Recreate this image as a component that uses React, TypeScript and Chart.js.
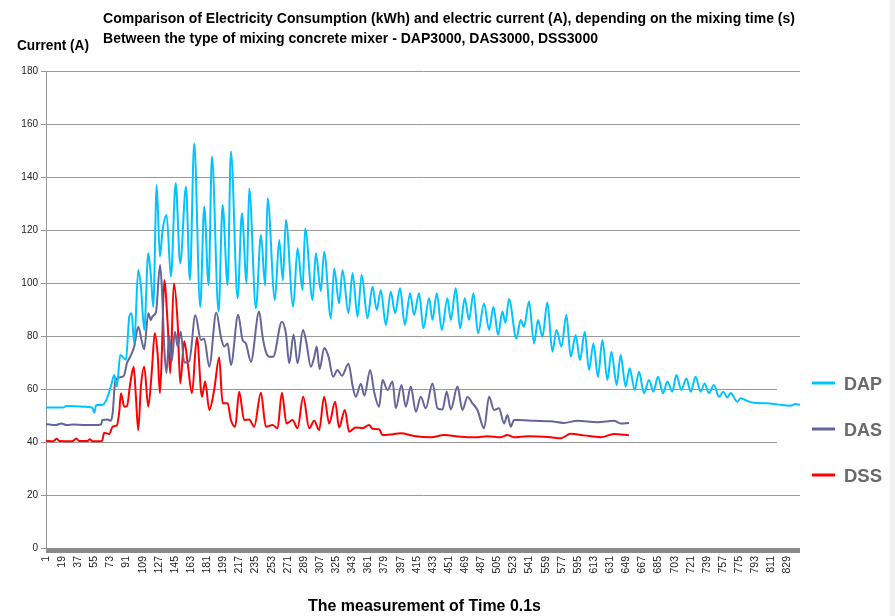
import { useEffect, useRef } from "react";
import { Chart, registerables } from "chart.js";

Chart.register(...registerables);

const TITLE_LINE_1 =
  "Comparison of Electricity Consumption (kWh) and electric current (A), depending on the mixing time (s)";
const TITLE_LINE_2 = "Between the type of mixing concrete mixer - DAP3000, DAS3000, DSS3000";
const Y_TITLE = "Current (A)";
const X_TITLE = "The measurement of Time 0.1s";
const SERIES_NAMES = ["DAP", "DAS", "DSS"];
const SERIES_COLORS = ["#00C4FF", "#65659A", "#FF0000"];

const TIME_TICKS = [
  1, 19, 37, 55, 73, 91, 109, 127, 145, 163, 181, 199, 217, 235, 253, 271, 289, 307, 325, 343,
  361, 379, 397, 415, 433, 451, 469, 487, 505, 523, 541, 559, 577, 595, 613, 631, 649, 667, 685,
  703, 721, 739, 757, 775, 793, 811, 829,
];
const TIME_MIN = 1;
const TIME_MAX = 843;
const CURRENT_MIN = 0;
const CURRENT_MAX = 180;
const CURRENT_STEP = 20;

// [time, current]
const DAP: [number, number][] = [
  [1, 53], [20, 53], [24, 53.6], [48, 53.2], [53, 52.8], [55, 51], [57, 54], [64.3, 54],
  [69.9, 57.1], [74.3, 62.1], [77.2, 65.3], [80.2, 61], [83.9, 72.8], [90.3, 71], [94, 87.3],
  [96.6, 88.6], [99.5, 77.2], [104, 104.9], [107, 98.6], [110.7, 82.3], [115.2, 111.2],
  [118.2, 102.4], [120.8, 91], [124.6, 137], [128.2, 110], [131.2, 120], [135.7, 125.7],
  [140.5, 102.4], [145.8, 137.6], [150.9, 107.4], [157.3, 136.3], [161.7, 101.1], [166.5, 152.7],
  [173.2, 91], [177.7, 128.8], [182.6, 99.2], [186.3, 147.7], [193.7, 89.2], [198.2, 129.4],
  [203.8, 99.2], [207.5, 149.6], [215, 94.2], [219.8, 126.3], [225, 99.9], [227.9, 135.7],
  [235.4, 90.5], [241, 118.1], [245.8, 99], [248.4, 132], [256.6, 93.6], [261.4, 116.2],
  [265.5, 101], [268.9, 123.8], [277, 91], [281.9, 113.1], [287.5, 97.4], [290.4, 120.6],
  [298.7, 93.6], [302.3, 111.2], [307.9, 97], [311.6, 111.8], [319.1, 86.7], [322.8, 105.5],
  [328.3, 92.3], [332.1, 104.9], [338.8, 88.6], [343.3, 103.7], [348.9, 87.3], [353.5, 103],
  [360, 86.7], [365.6, 98.6], [370.4, 89.8], [374.9, 97.4], [380.5, 84.2], [386, 96.7],
  [390.8, 88.6], [396.4, 98], [401.7, 84.2], [407.6, 96.1], [412, 87.9], [417.6, 96.1],
  [422.5, 82.9], [428.8, 94.2], [432.6, 86], [437.4, 96.1], [443, 82.3], [449.3, 94.2],
  [453, 86], [458.6, 98], [463.4, 82.9], [468.6, 94.2], [473.4, 86], [478.3, 96.1], [483.5, 81],
  [490.2, 92.3], [495.8, 82.3], [500.7, 91], [505.8, 80.4], [510.7, 89.2], [514, 85], [518, 94],
  [526.3, 79.1], [531.1, 86], [534.8, 83.5], [540.4, 93], [546, 77.2], [550.4, 86],
  [555.4, 79.7], [560.9, 92.6], [566.5, 74.1], [571, 82.3], [576.6, 76], [582.1, 87.9],
  [587, 72.2], [592.5, 80.4], [597.3, 70.9], [602.6, 81.6], [607.4, 67.2], [612.3, 77.2],
  [617.4, 64.6], [622.3, 78.5], [627.9, 63.4], [632.4, 74.1], [638.3, 61.5], [642.7, 72.8],
  [648.3, 60.9], [652.8, 67.8], [658.4, 59.6], [663.2, 66.5], [668.8, 58.4], [674.4, 63.4],
  [679.2, 59], [684.4, 64.6], [690, 58.4], [694.9, 62.8], [700.4, 59], [704.9, 65.3],
  [710.5, 59.6], [716.1, 64], [721, 59], [726.4, 64.6], [732, 59], [736.5, 62.1], [741.3, 58.4],
  [746.9, 61.5], [752.5, 57.1], [757.4, 59], [761.8, 56.8], [765.5, 58.5], [773, 55.2],
  [776.7, 56.5], [784.2, 55.5], [791.5, 54.8], [806.5, 54.6], [817.6, 54.2], [832.5, 53.7],
  [838, 54.3], [843, 54],
];

const DAS: [number, number][] = [
  [1, 46.8], [12, 46.4], [18, 47], [24, 46.4], [32, 46.6], [44, 46.4], [55, 46.4], [62.4, 46.6],
  [64, 48.3], [70, 48.5], [73, 48], [75.4, 50.8], [78, 62.1], [80.2, 64], [84.7, 64.5], [88, 65],
  [91.4, 69.7], [95.1, 72.2], [99.5, 76], [104, 83.5], [108, 78], [110.7, 75], [115.2, 88.6],
  [118.2, 86], [120.1, 87.5], [123.8, 89], [128.4, 106.8], [130.5, 97.4], [133, 76], [135.5, 66],
  [138.6, 80], [141.3, 70.3], [145, 81.6], [148, 76], [151.5, 81.6], [155.4, 70], [161, 70.5],
  [167.8, 87.8], [174, 78.5], [177.7, 79], [183.3, 68.4], [191.2, 88.9], [196.3, 79.7],
  [200, 76], [203.8, 77.2], [207.5, 69.1], [215.6, 88], [220.5, 78.5], [224.2, 77.2],
  [229.8, 70.3], [239, 89.2], [242.9, 79.7], [246.5, 74.1], [250.2, 72.2], [254.7, 72.2],
  [264.4, 85.4], [268.9, 81], [272.6, 69.7], [277.5, 80.6], [281.9, 69.7], [288, 82.3],
  [291.5, 78], [296.8, 68.4], [300.5, 72], [303.3, 76], [306.5, 67.5], [311.7, 75.5],
  [316.5, 72.2], [321.6, 64.6], [326.5, 67.2], [331.5, 65], [338.8, 69.5], [343.5, 61],
  [347, 57.1], [352.6, 62], [356.5, 57.5], [363, 67.2], [367.4, 59], [373, 53.3], [376.8, 63.4],
  [382.4, 59.6], [388, 62.8], [391.6, 52.7], [398, 61.5], [402.8, 53.3], [408.4, 60.9],
  [414, 51.4], [419.5, 57.1], [425.1, 52.7], [432.6, 62.1], [438.2, 52.7], [443.8, 52.3],
  [448.5, 59], [453, 52.3], [460.5, 60.9], [466, 52.1], [471.7, 57], [477.2, 54.6],
  [482.8, 52.1], [490.2, 45.2], [495.8, 57.1], [501.3, 52.1], [506.9, 52.7], [512.5, 47],
  [516.3, 50.2], [519.9, 45.8], [523.7, 48.3], [529.3, 48.3], [546, 48], [564.6, 47.8],
  [579.5, 47.2], [594.4, 48], [616.7, 47.5], [635.3, 48], [642.7, 47], [652, 47.2],
];

const DSS: [number, number][] = [
  [1, 40.5], [9, 40.3], [13, 41.2], [16, 40.4], [30, 40.3], [35, 41.3], [38, 40.4], [47, 40.4],
  [50, 41], [53, 40.3], [63.5, 40.4], [66, 43.5], [71.7, 43], [75.4, 45.8], [80.2, 46.3],
  [82.8, 51.4], [84.7, 58.4], [88.4, 53.3], [91.4, 53.5], [95.1, 62.1], [98.9, 68.4],
  [101.4, 57.1], [104, 44.5], [107, 60.9], [110.7, 68.4], [115.2, 53.3], [119, 66], [122.5, 81],
  [125.7, 73], [128.2, 58.4], [130.5, 75], [133, 101.1], [136.8, 85], [139.7, 65.9],
  [143.8, 99.9], [148, 85], [150.9, 62.1], [155.4, 78], [159.1, 70], [164, 58.4], [169.5, 79.5],
  [175.1, 57.1], [178.8, 62.8], [183.3, 52.1], [188.8, 59.6], [194.4, 71.9], [198.2, 54.6],
  [203.8, 54.6], [207.5, 48.3], [212.3, 45.8], [216.7, 59], [222.3, 48.3], [227.9, 48.5],
  [233.5, 45.8], [241, 58.6], [246.5, 45.8], [254, 46.4], [259.6, 45.2], [264.4, 58.6],
  [269.6, 47], [276.3, 48.3], [281.9, 45.2], [288.2, 57.1], [294.9, 45.2], [300.5, 48],
  [306, 44.5], [311.6, 57.1], [317.2, 47], [323.9, 55.2], [328.3, 45.5], [334.7, 52.1],
  [339.5, 43.9], [347, 45.5], [354.5, 45.2], [361.8, 46.4], [365.6, 45], [373, 44.8],
  [376.8, 42.6], [385, 42.8], [397.2, 43.3], [412, 42.3], [430.7, 41.8], [445.5, 42.6],
  [464.2, 42], [481, 41.8], [494, 42.2], [508.8, 41.8], [516.3, 42.6], [523.7, 41.8],
  [538.6, 42.2], [564.6, 41.8], [575.8, 41.4], [587, 43.1], [601.8, 42.5], [620.5, 41.8],
  [635.3, 43], [652, 42.5],
];

const SERIES = [DAP, DAS, DSS];

const FONT = '"Liberation Sans", Arial, Helvetica, sans-serif';

function fitText(
  ctx: CanvasRenderingContext2D,
  text: string,
  x: number,
  y: number,
  width: number,
  font: string,
  color: string
) {
  ctx.save();
  ctx.font = font;
  ctx.fillStyle = color;
  ctx.textAlign = "left";
  ctx.textBaseline = "alphabetic";
  const m = ctx.measureText(text).width || 1;
  ctx.translate(x, y);
  ctx.scale(width / m, 1);
  ctx.fillText(text, 0, 0);
  ctx.restore();
}

const decorPlugin = {
  id: "decor",
  beforeDraw(chart: any) {
    const { ctx, width, height } = chart;
    ctx.save();
    ctx.fillStyle = "#ffffff";
    ctx.fillRect(0, 0, width, height);
    ctx.fillStyle = "#f1f1f1";
    ctx.fillRect(890, 0, width - 890, height);
    ctx.restore();
  },
  beforeDatasetsDraw(chart: any) {
    const { ctx, chartArea } = chart;
    ctx.save();
    // area behind the legend hides the grid lines
    ctx.fillStyle = "#ffffff";
    ctx.fillRect(777, 362, chartArea.right - 777 + 2, 96);
    // floor of the plot
    ctx.fillStyle = "#8c8c8c";
    ctx.fillRect(chartArea.left, chartArea.bottom, chartArea.right - chartArea.left, 5);
    ctx.restore();
  },
  afterDraw(chart: any) {
    const { ctx } = chart;
    fitText(ctx, TITLE_LINE_1, 103, 23, 692, `bold 15px ${FONT}`, "#000000");
    fitText(ctx, TITLE_LINE_2, 103, 43, 495, `bold 15px ${FONT}`, "#000000");
    fitText(ctx, Y_TITLE, 17, 50, 72, `bold 15px ${FONT}`, "#000000");
    fitText(ctx, X_TITLE, 308, 611, 233, `bold 16px ${FONT}`, "#000000");

    chart.data.datasets.forEach((ds: any, i: number) => {
      const y = 383 + i * 46;
      ctx.save();
      ctx.strokeStyle = ds.borderColor;
      ctx.lineWidth = 3;
      ctx.beginPath();
      ctx.moveTo(812, y);
      ctx.lineTo(835, y);
      ctx.stroke();
      ctx.restore();
      fitText(ctx, ds.label, 844, y + 7, 38, `bold 19px ${FONT}`, "#6a6a6a");
    });
  },
};

export default function App() {
  const canvasRef = useRef<HTMLCanvasElement | null>(null);

  useEffect(() => {
    document.body.style.margin = "0";
    const canvas = canvasRef.current;
    if (!canvas) return;

    const chart = new Chart(canvas, {
      type: "line",
      data: {
        datasets: SERIES.map((pts, i) => ({
          label: SERIES_NAMES[i],
          data: pts.map(([x, y]) => ({ x, y })),
          borderColor: SERIES_COLORS[i],
          backgroundColor: SERIES_COLORS[i],
          borderWidth: 2,
          pointRadius: 0,
          cubicInterpolationMode: "monotone" as const,
          fill: false,
          borderJoinStyle: "round" as const,
        })),
      },
      options: {
        responsive: false,
        animation: false,
        devicePixelRatio: 1,
        layout: { padding: { top: 71, right: 95, left: 0, bottom: 0 } },
        plugins: {
          legend: { display: false },
          title: { display: false },
          tooltip: { enabled: false },
        },
        scales: {
          x: {
            type: "linear",
            min: TIME_MIN,
            max: TIME_MAX,
            afterBuildTicks: (axis: any) => {
              axis.ticks = TIME_TICKS.map((v) => ({ value: v }));
            },
            afterFit: (axis: any) => {
              axis.height = 68;
            },
            grid: { display: false, drawTicks: false },
            border: { display: false },
            ticks: {
              autoSkip: false,
              minRotation: 90,
              maxRotation: 90,
              padding: 8,
              color: "#222222",
              font: { family: FONT, size: 10.5 },
              callback: (v: any) => String(v),
            },
          },
          y: {
            min: CURRENT_MIN,
            max: CURRENT_MAX,
            afterFit: (axis: any) => {
              axis.width = 46;
            },
            grid: { color: "#999999", lineWidth: 1, tickLength: 5, drawTicks: true },
            border: { display: true, color: "#999999", width: 1 },
            ticks: {
              stepSize: CURRENT_STEP,
              padding: 3,
              color: "#222222",
              font: { family: FONT, size: 10 },
            },
          },
        },
      },
      plugins: [decorPlugin],
    });

    return () => {
      chart.destroy();
    };
  }, []);

  return (
    <div style={{ width: 895, height: 616, position: "relative" }}>
      <canvas ref={canvasRef} width={895} height={616} style={{ display: "block" }} />
    </div>
  );
}
